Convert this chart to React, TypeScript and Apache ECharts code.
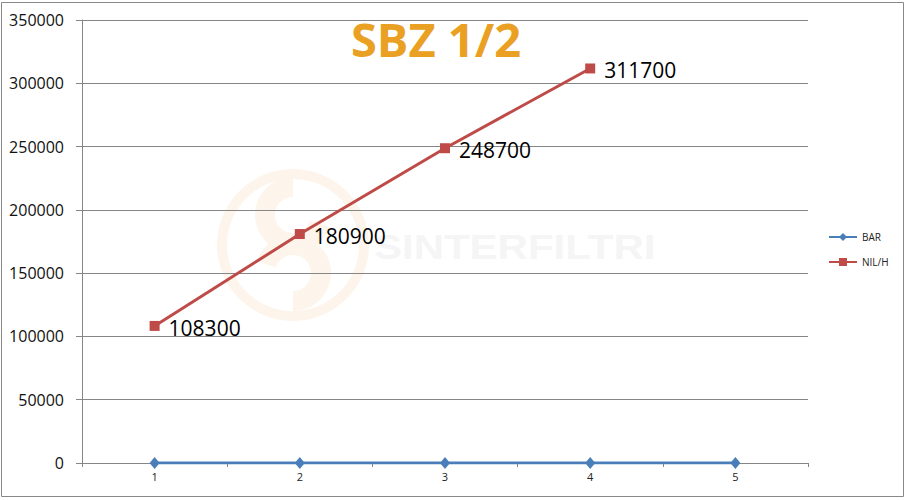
import React, { useEffect, useRef } from "react";
import * as echarts from "echarts";

const categories = ["1", "2", "3", "4", "5"];
const barValues = [0, 0, 0, 0, 0];
const nilValues = [108300, 180900, 248700, 311700];
const yMin = 0;
const yMax = 350000;
const yInterval = 50000;
const titleText = "SBZ 1/2";
const seriesNames = ["BAR", "NIL/H"];
const watermarkText = "SINTERFILTRI";

export default function App() {
  const ref = useRef<HTMLDivElement>(null);
  useEffect(() => {
    if (!ref.current) return;
    const chart = echarts.init(ref.current, null, { renderer: "svg" });
    const gridCol = "#868686";
    const peach = "#fdf5eb";
    chart.setOption({
      animation: false,
      backgroundColor: "#ffffff",
      title: {
        text: titleText,
        left: 431,
        top: 10,
        textAlign: "center",
        textStyle: {
          fontFamily: "Open Sans",
          fontWeight: "bold",
          fontSize: 47,
          color: "#e9a023",
        },
      },
      legend: {
        orient: "vertical",
        left: 828,
        top: 232,
        padding: 0,
        itemWidth: 28,
        itemHeight: 10,
        itemGap: 15,
        textStyle: { fontFamily: "Open Sans", fontSize: 10, color: "#222" },
        data: seriesNames,
      },
      graphic: [
        {
          type: "rect",
          shape: { x: 1.5, y: 2.5, width: 902, height: 494 },
          style: { fill: "none", stroke: "#888", lineWidth: 1 },
          z: 0,
          silent: true,
        },
        {
          type: "ring",
          shape: { cx: 293, cy: 245, r: 76, r0: 66 },
          style: { fill: peach },
          z: -1,
          silent: true,
        },
        {
          type: "arc",
          shape: { cx: 293, cy: 215, r: 28, startAngle: Math.PI * 0.1, endAngle: Math.PI * 1.5, clockwise: true },
          style: { fill: "none", stroke: peach, lineWidth: 20 },
          z: -1,
          silent: true,
        },
        {
          type: "arc",
          shape: { cx: 293, cy: 273, r: 28, startAngle: Math.PI * 1.1, endAngle: Math.PI * 0.5, clockwise: true },
          style: { fill: "none", stroke: peach, lineWidth: 20 },
          z: -1,
          silent: true,
        },
        {
          type: "text",
          x: 374,
          y: 247,
          scaleX: 1.2,
          style: {
            text: watermarkText,
            fontFamily: "Liberation Sans",
            fontWeight: "bold",
            fontSize: 35,
            fill: "#f5f5f5",
            align: "left",
            verticalAlign: "middle",
          },
          z: -1,
          silent: true,
        },
      ],
      grid: { left: 82, right: 98, top: 20, bottom: 37 },
      xAxis: {
        type: "category",
        data: categories,
        boundaryGap: true,
        axisLine: { lineStyle: { color: gridCol, width: 1 } },
        axisTick: { show: true, length: 4, lineStyle: { color: gridCol } },
        axisLabel: { fontFamily: "Open Sans", fontSize: 11, color: "#222", margin: 8 },
        splitLine: { show: false },
      },
      yAxis: {
        type: "value",
        min: yMin,
        max: yMax,
        interval: yInterval,
        axisLine: { show: true, lineStyle: { color: gridCol, width: 1 } },
        axisTick: { show: true, length: 6, lineStyle: { color: gridCol } },
        axisLabel: {
          fontFamily: "Open Sans",
          fontSize: 16,
          color: "#111",
          margin: 18,
          formatter: (v: number) => String(v),
        },
        splitLine: { show: true, lineStyle: { color: gridCol, width: 1 } },
      },
      series: [
        {
          name: seriesNames[0],
          type: "line",
          data: barValues,
          symbol: "diamond",
          symbolSize: [10, 12],
          itemStyle: { color: "#4a7ebb" },
          lineStyle: { color: "#4a7ebb", width: 3 },
          z: 3,
        },
        {
          name: seriesNames[1],
          type: "line",
          data: nilValues,
          symbol: "rect",
          symbolSize: 10,
          itemStyle: { color: "#be4b48" },
          lineStyle: { color: "#be4b48", width: 3 },
          label: {
            show: true,
            position: "right",
            distance: 9,
            offset: [0, 2],
            fontFamily: "Open Sans",
            fontSize: 21,
            color: "#000",
          },
          z: 4,
        },
      ],
    });
    return () => chart.dispose();
  }, []);
  return (
    <div
      ref={ref}
      style={{ position: "fixed", left: 0, top: 0, width: 906, height: 500 }}
    />
  );
}
